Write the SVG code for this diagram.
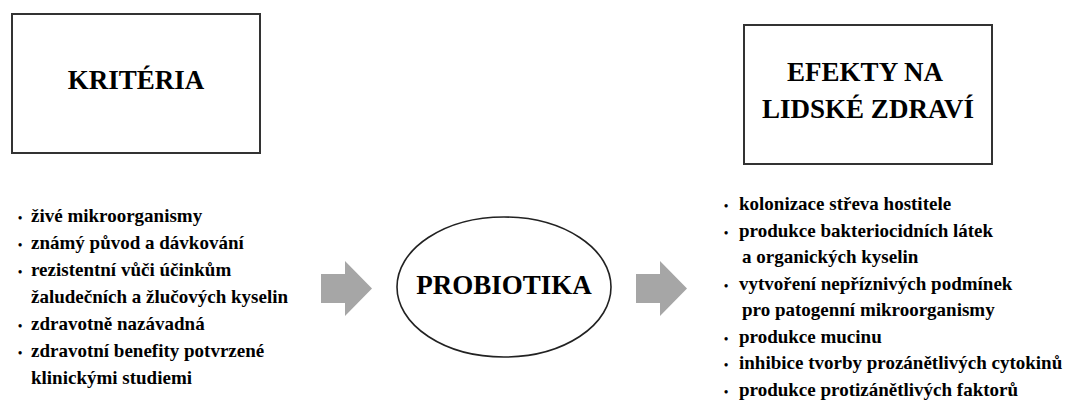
<svg xmlns="http://www.w3.org/2000/svg" width="1069" height="407" viewBox="0 0 1069 407" font-family="Liberation Serif, Times New Roman, serif">
<style>
.box{fill:#fff;stroke:#333;stroke-width:2}
.ell{fill:#fff;stroke:#222;stroke-width:1.6}
.title{font-size:27px;text-anchor:middle;font-weight:700;fill:#000}
.item{font-size:19px;font-weight:700;fill:#000}
.bul{font-size:12px;font-weight:700;fill:#000}
.arrow{fill:#a6a6a6;stroke:none}
</style>
<rect width="1069" height="407" fill="#fff"/>
<g id="kriteria">
<rect class="box" x="12" y="14" width="248" height="139"/>
<text class="title" x="136" y="89" font-family="Liberation Serif">KRITÉRIA</text>
</g>
<g id="efekty">
<rect class="box" x="744" y="25" width="248" height="139"/>
<text class="title" x="865" y="81" font-family="Liberation Serif">EFEKTY NA</text>
<text class="title" x="868" y="118" font-family="Liberation Serif">LIDSKÉ ZDRAVÍ</text>
</g>
<g id="probiotika">
<ellipse class="ell" cx="504" cy="287" rx="107" ry="70"/>
<text class="title" x="504" y="294" font-family="Liberation Serif">PROBIOTIKA</text>
</g>
<g id="kriteria-list" font-family="Liberation Serif">
<text class="bul" x="18" y="222">•</text><text class="item" x="31" y="222">živé mikroorganismy</text>
<text class="bul" x="18" y="249">•</text><text class="item" x="31" y="249">známý původ a dávkování</text>
<text class="bul" x="18" y="276">•</text><text class="item" x="31" y="276">rezistentní vůči účinkům</text>
<text class="item" x="31" y="303">žaludečních a žlučových kyselin</text>
<text class="bul" x="18" y="330">•</text><text class="item" x="31" y="330">zdravotně nazávadná</text>
<text class="bul" x="18" y="357">•</text><text class="item" x="31" y="357">zdravotní benefity potvrzené</text>
<text class="item" x="31" y="384">klinickými studiemi</text>
</g>
<g id="efekty-list" font-family="Liberation Serif">
<text class="bul" x="724" y="210">•</text><text class="item" x="739" y="210">kolonizace střeva hostitele</text>
<text class="bul" x="724" y="237">•</text><text class="item" x="739" y="237">produkce bakteriocidních látek</text>
<text class="item" x="742" y="263">a organických kyselin</text>
<text class="bul" x="724" y="290">•</text><text class="item" x="739" y="290">vytvoření nepříznivých podmínek</text>
<text class="item" x="742" y="316">pro patogenní mikroorganismy</text>
<text class="bul" x="724" y="343">•</text><text class="item" x="739" y="343">produkce mucinu</text>
<text class="bul" x="724" y="369">•</text><text class="item" x="739" y="369">inhibice tvorby prozánětlivých cytokinů</text>
<text class="bul" x="724" y="396">•</text><text class="item" x="739" y="396">produkce protizánětlivých faktorů</text>
</g>
<g id="connectors">
<polygon class="arrow" points="321,274 345,274 345,261 372,288.5 345,316 345,303 321,303"/>
<polygon class="arrow" points="636,274 660,274 660,261 687,288.5 660,316 660,303 636,303"/>
</g>
</svg>
